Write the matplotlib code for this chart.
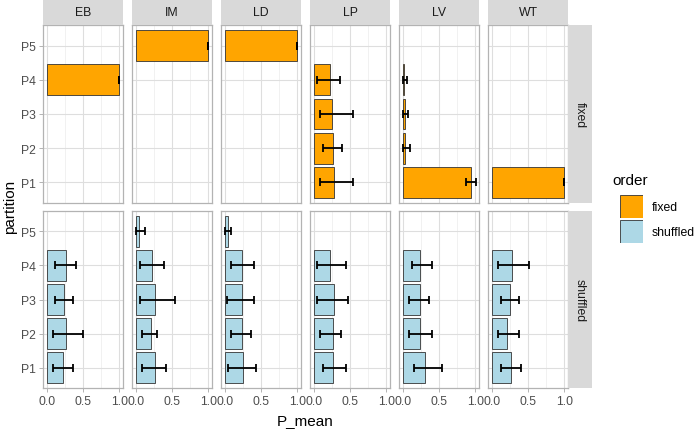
import numpy as np
import matplotlib
matplotlib.use("Agg")
import matplotlib.pyplot as plt
from matplotlib.patches import Rectangle

plt.rcParams['font.family'] = ['Liberation Sans', 'DejaVu Sans']

# facets and partitions
categories = ['EB', 'IM', 'LD', 'LP', 'LV', 'WT']
partitions = ['P1', 'P2', 'P3', 'P4', 'P5']
orders = ['fixed', 'shuffled']
nan = np.nan

# fixed order: mean, lower, upper per category (P1..P5)
fixed_mean = {
    'EB': [nan, nan, nan, 1.0, nan],
    'IM': [nan, nan, nan, nan, 1.0],
    'LD': [nan, nan, nan, nan, 1.0],
    'LP': [0.275, 0.26, 0.25, 0.225, nan],
    'LV': [0.94, 0.035, 0.035, 0.025, nan],
    'WT': [1.0, nan, nan, nan, nan],
}
fixed_lo = {
    'EB': [nan, nan, nan, 1.0, nan],
    'IM': [nan, nan, nan, nan, 1.0],
    'LD': [nan, nan, nan, nan, 1.0],
    'LP': [0.09, 0.125, 0.09, 0.05, nan],
    'LV': [0.87, 0.0, 0.0, 0.0, nan],
    'WT': [1.0, nan, nan, nan, nan],
}
fixed_hi = {
    'EB': [nan, nan, nan, 1.0, nan],
    'IM': [nan, nan, nan, nan, 1.0],
    'LD': [nan, nan, nan, nan, 1.0],
    'LP': [0.54, 0.39, 0.54, 0.36, nan],
    'LV': [1.01, 0.1, 0.07, 0.06, nan],
    'WT': [1.0, nan, nan, nan, nan],
}

# shuffled order
shuf_mean = {
    'EB': [0.22, 0.27, 0.245, 0.27, nan],
    'IM': [0.26, 0.21, 0.27, 0.23, 0.05],
    'LD': [0.25, 0.24, 0.24, 0.24, 0.04],
    'LP': [0.26, 0.26, 0.275, 0.23, nan],
    'LV': [0.31, 0.24, 0.24, 0.24, nan],
    'WT': [0.26, 0.215, 0.25, 0.275, nan],
}
shuf_lo = {
    'EB': [0.09, 0.09, 0.115, 0.115, nan],
    'IM': [0.09, 0.09, 0.06, 0.06, 0.0],
    'LD': [0.05, 0.085, 0.03, 0.085, 0.0],
    'LP': [0.125, 0.09, 0.05, 0.05, nan],
    'LV': [0.16, 0.09, 0.09, 0.125, nan],
    'WT': [0.13, 0.09, 0.13, 0.09, nan],
}
shuf_hi = {
    'EB': [0.36, 0.5, 0.36, 0.41, nan],
    'IM': [0.42, 0.3, 0.54, 0.395, 0.13],
    'LD': [0.43, 0.36, 0.40, 0.40, 0.09],
    'LP': [0.44, 0.37, 0.47, 0.44, nan],
    'LV': [0.54, 0.40, 0.36, 0.40, nan],
    'WT': [0.40, 0.37, 0.37, 0.51, nan],
}

colors = {'fixed': '#FFA500', 'shuffled': '#ADD8E6'}
data = {
    'fixed': (fixed_mean, fixed_lo, fixed_hi),
    'shuffled': (shuf_mean, shuf_lo, shuf_hi),
}

W, H = 696, 431
fig = plt.figure(figsize=(W / 100, H / 100), dpi=100)


def px_axes(x0, y0, x1, y1):
    return fig.add_axes([x0 / W, 1 - y1 / H, (x1 - x0) / W, (y1 - y0) / H])


panel_left = [43, 132, 221, 310, 399, 488]
panel_w = 80
rows_y = {'fixed': (26, 204), 'shuffled': (212, 389)}
grey_txt = '#4D4D4D'
strip_col = '#D9D9D9'

ypos = np.arange(1, len(partitions) + 1)

for r, order in enumerate(orders):
    y0, y1 = rows_y[order]
    mean, lo, hi = data[order]
    for c, cat in enumerate(categories):
        x0 = panel_left[c]
        ax = px_axes(x0, y0, x0 + panel_w, y1)
        m = np.array(mean[cat])
        l = np.array(lo[cat])
        h = np.array(hi[cat])
        ok = ~np.isnan(m)
        ax.barh(ypos[ok], m[ok], height=0.9, color=colors[order],
                edgecolor='#333333', linewidth=0.6, zorder=3)
        ax.errorbar(m[ok], ypos[ok], xerr=[m[ok] - l[ok], h[ok] - m[ok]],
                    fmt='none', ecolor='black', elinewidth=1.3, capsize=2.6,
                    capthick=1.3, zorder=4)
        ax.set_xlim(-0.05, 1.05)
        ax.set_ylim(0.4, 5.6)
        ax.set_xticks([0, 0.5, 1.0])
        ax.set_xticks([0.25, 0.75], minor=True)
        ax.set_yticks(ypos)
        ax.grid(True, which='major', color='#DEDEDE', linewidth=0.8, zorder=0)
        ax.grid(True, which='minor', axis='x', color='#EBEBEB', linewidth=0.5, zorder=0)
        ax.set_axisbelow(True)
        for s in ax.spines.values():
            s.set_color('#B3B3B3')
            s.set_linewidth(0.9)
        ax.tick_params(which='minor', length=0)
        ax.tick_params(which='major', length=3, color='#B3B3B3', width=0.7,
                       labelcolor=grey_txt, labelsize=8.8, pad=2)
        if c == 0:
            ax.set_yticklabels(partitions)
        else:
            ax.set_yticklabels([])
        if r == 1:
            ax.set_xticklabels(['0.0', '0.5', '1.0'])
        else:
            ax.set_xticklabels([])
            ax.tick_params(axis='x', length=0)
        if c > 0:
            ax.tick_params(axis='y', length=0)

        # top strips
        if r == 0:
            sax = px_axes(x0, 0, x0 + panel_w, 26)
            sax.set_axis_off()
            sax.add_patch(Rectangle((0, 0), 1, 1, color=strip_col,
                                    transform=sax.transAxes))
            sax.text(0.5, 0.5, cat, ha='center', va='center', fontsize=8.8,
                     color='#1A1A1A', transform=sax.transAxes)

    # right strip
    rax = px_axes(568, y0, 592, y1)
    rax.set_axis_off()
    rax.add_patch(Rectangle((0, 0), 1, 1, color=strip_col,
                            transform=rax.transAxes))
    rax.text(0.5, 0.5, order, ha='center', va='center', fontsize=8.8,
             color='#1A1A1A', rotation=-90, transform=rax.transAxes)

# axis titles
fig.text(305 / W, 1 - 421 / H, 'P_mean', ha='center', va='center', fontsize=11)
fig.text(10 / W, 1 - 207 / H, 'partition', ha='center', va='center',
         fontsize=11, rotation=90)

# legend
fig.text(612 / W, 1 - 181 / H, 'order', ha='left', va='center', fontsize=11)
for i, order in enumerate(orders):
    ky0 = 196 + i * 25
    kax = px_axes(620, ky0, 643, ky0 + 23)
    kax.set_axis_off()
    kax.add_patch(Rectangle((0.02, 0.02), 0.96, 0.96, facecolor=colors[order],
                            edgecolor='#333333', linewidth=0.6,
                            transform=kax.transAxes))
    fig.text(652 / W, 1 - (ky0 + 12) / H, order, ha='left', va='center',
             fontsize=8.8, color='black')

fig.savefig('out.png', dpi=100)
